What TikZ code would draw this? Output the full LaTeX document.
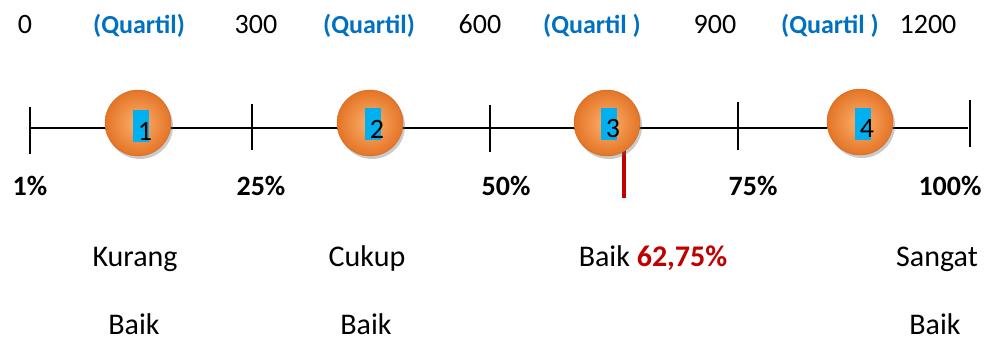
\documentclass[tikz,border=0pt]{standalone}
\usepackage{fontspec}
\setmainfont{Carlito}
\usetikzlibrary{shadows}
\definecolor{qblue}{RGB}{0,112,192}
\definecolor{hiblue}{RGB}{0,176,240}
\definecolor{darkred}{RGB}{192,0,0}
\definecolor{orlight}{RGB}{252,178,110}
\definecolor{ordark}{RGB}{228,116,38}
\tikzset{
  toplab/.style={font=\fontsize{28}{30}\selectfont, anchor=base, inner sep=0pt},
  quart/.style={anchor=base, inner sep=0pt, font=\fontsize{26}{28}\selectfont\bfseries, text=qblue},
  pct/.style={font=\fontsize{28}{30}\selectfont\bfseries, anchor=base, inner sep=0pt},
  catlab/.style={font=\fontsize{30}{32}\selectfont, anchor=base, inner sep=0pt},
  tick/.style={line width=1.3pt},
  ball/.style={circle, minimum size=66pt, inner sep=0pt, draw=ordark!90!black, line width=0.4pt,
    inner color=orlight, outer color=ordark,
    drop shadow={shadow xshift=2pt, shadow yshift=-3pt, opacity=0.35, fill=black!60}},
  hi/.style={fill=hiblue, draw=none, minimum width=16pt, minimum height=32pt, inner sep=0pt},
  num/.style={font=\fontsize{28}{30}\selectfont, inner sep=0pt}
}
\begin{document}
\begin{tikzpicture}[x=1pt,y=-1pt]
\useasboundingbox (0,0) rectangle (992,340);
% top labels
\node[toplab] (v0) at (25,33) {0};
\node[quart] (q1) at (139,33) {(Quartil)};
\node[toplab] (v300) at (256,33) {300};
\node[quart] (q2) at (369,33) {(Quartil)};
\node[toplab] (v600) at (480,33) {600};
\node[quart] (q3) at (592,33) {(Quartil )};
\node[toplab] (v900) at (715,33) {900};
\node[quart] (q4) at (830,33) {(Quartil )};
\node[toplab] (v1200) at (928,33) {1200};
% axis
\coordinate (a0) at (30,128);
\coordinate (a4) at (968,128);
\draw[line width=1.3pt] (a0) -- (a4);
\draw[tick] (30,107) -- (30,154);
\draw[tick] (252,104) -- (252,150);
\draw[tick] (490,105) -- (490,152);
\draw[tick] (738,102) -- (738,150);
\draw[tick] (970,100) -- (970,147);
% red marker
\coordinate (m) at (624,150);
\coordinate (mb) at (624,198);
\draw[darkred, line width=4pt] (m) -- (mb);
% balls
\node[ball] (b1) at (138,123) {};
\node[ball] (b2) at (370,123) {};
\node[ball] (b3) at (607,123) {};
\node[ball] (b4) at (860,122) {};
\node[hi] (h1) at (141,126) {};
\node[hi] (h2) at (373,124) {};
\node[hi] (h3) at (609,124) {};
\node[hi] (h4) at (863,124) {};
\node[num] (n1) at (145,131) {1};
\node[num] (n2) at (377,129) {2};
\node[num] (n3) at (613,129) {3};
\node[num] (n4) at (867,129) {4};
% percentages
\node[pct] (p1) at (30,195) {1\%};
\node[pct] (p25) at (261,195) {25\%};
\node[pct] (p50) at (506,195) {50\%};
\node[pct] (p75) at (753,195) {75\%};
\node[pct] (p100) at (950,195) {100\%};
% categories
\node[catlab] (c1) at (135,266) {Kurang};
\node[catlab] (c1b) at (134,334) {Baik};
\node[catlab] (c2) at (367,266) {Cukup};
\node[catlab] (c2b) at (366,334) {Baik};
\node[catlab] (c3) at (653,266) {Baik \textcolor{darkred}{\bfseries 62,75\%}};
\node[catlab] (c4) at (937,266) {Sangat};
\node[catlab] (c4b) at (935,334) {Baik};
\end{tikzpicture}
\end{document}
